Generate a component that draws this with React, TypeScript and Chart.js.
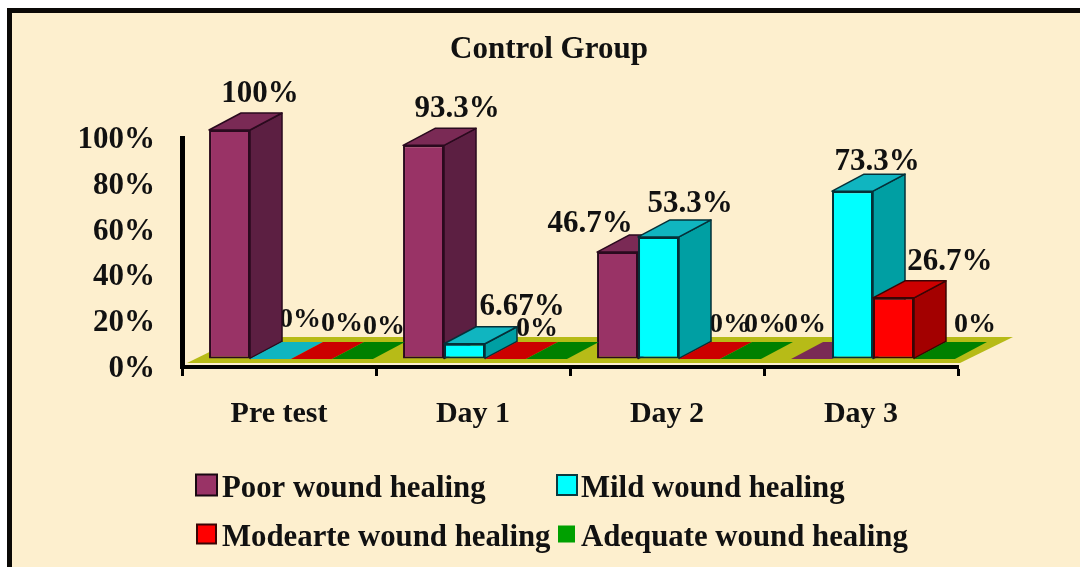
import React, { useEffect, useRef } from "react";
import { Chart, registerables } from "chart.js";

Chart.register(...registerables);

const categories = ["Pre test", "Day 1", "Day 2", "Day 3"];
const seriesNames = [
  "Poor wound healing",
  "Mild wound healing",
  "Modearte wound healing",
  "Adequate wound healing",
];
const poor = [100, 93.3, 46.7, 0];
const mild = [0, 6.67, 53.3, 73.3];
const moderate = [0, 0, 0, 26.7];
const adequate = [0, 0, 0, 0];
const yTicks = [0, 20, 40, 60, 80, 100];

// Labels per series and category; null where the reference shows no label.
const poorLabels = ["100%", "93.3%", "46.7%", "0%"];
const mildLabels = ["0%", "6.67%", "53.3%", "73.3%"];
const moderateLabels = ["0%", "0%", "0%", "26.7%"];
const adequateLabels = ["0%", null, "0%", "0%"];

// Offsets of each label from the top-centre of its bar's front face.
const labelOffsets = [
  [[30.5, -36], [33.5, -36], [-27.5, -28], [-6.5, -34]],
  [[29.5, -39], [57.5, -37], [31.5, -33], [24.5, -29]],
  [[30.5, -35], [31.5, -30], [30.5, -34], [56.5, -36]],
  [[31.5, -32], [0, 0], [24.5, -34], [40.5, -34]],
];

const FONT = '"Liberation Serif"';
const BG = "#FDEFCE";
const frontColors = ["#993366", "#00FFFF", "#FF0000", "#008000"];
const sideColors = ["#5C1F42", "#009FA3", "#A30000", "#005000"];
const topColors = ["#7A2A55", "#10B5C0", "#CC0000", "#008000"];
const edgeColors = ["#2A0A1E", "#053038", "#3A0505", "#003000"];
const legendColors = ["#993366", "#00FFFF", "#FF0000", "#00A000"];
const legendEdges = ["#1A0812", "#0A3A40", "#3A0505", "#00A000"];

const SHIFT_X = 12;
const SHIFT_Y = -8;
const DEPTH_X = 32;
const DEPTH_Y = 17;

const poly = (ctx: CanvasRenderingContext2D, pts: number[][]) => {
  ctx.beginPath();
  pts.forEach((p, i) => (i ? ctx.lineTo(p[0], p[1]) : ctx.moveTo(p[0], p[1])));
  ctx.closePath();
};

const scene = {
  id: "scene",
  beforeDraw(chart: any) {
    const { ctx, width, height } = chart;
    ctx.save();
    ctx.fillStyle = "#FFFFFF";
    ctx.fillRect(0, 0, width, height);
    ctx.fillStyle = "#0B0906";
    ctx.fillRect(7, 8, width - 7, height - 8);
    ctx.fillStyle = BG;
    ctx.fillRect(12, 13, width - 12, height - 13);
    ctx.restore();
  },
  afterLayout(chart: any) {
    if (chart.titleBlock) {
      chart.titleBlock.left = 18;
      chart.titleBlock.right = chart.width;
    }
  },
  beforeDatasetsDraw(chart: any) {
    const { ctx, chartArea } = chart;
    const { left, right, bottom } = chartArea;
    ctx.save();
    // floor
    ctx.fillStyle = "#B7BB17";
    poly(ctx, [
      [left + 5, bottom - 4],
      [right + 2, bottom - 4],
      [right + 55, bottom - 30],
      [left + 58, bottom - 30],
    ]);
    ctx.fill();

    const metas = chart.data.datasets.map((_: any, i: number) => chart.getDatasetMeta(i));
    const allLabels = [poorLabels, mildLabels, moderateLabels, adequateLabels];

    ctx.translate(SHIFT_X, SHIFT_Y);

    // value labels sit behind the bars, which clip them as in the reference
    ctx.fillStyle = "#111111";
    ctx.textAlign = "center";
    ctx.textBaseline = "middle";
    metas.forEach((meta: any, s: number) => {
      meta.data.forEach((bar: any, c: number) => {
        const text = allLabels[s][c];
        if (!text) return;
        const [dx, dy] = labelOffsets[s][c];
        ctx.font = `bold ${text === "0%" ? 28 : 31}px ${FONT}`;
        ctx.fillText(text, bar.x + dx, bar.y + dy);
      });
    });

    // bars, series by series, left to right, so nearer faces overlap correctly
    metas.forEach((meta: any, s: number) => {
      meta.data.forEach((bar: any) => {
        const x0 = bar.x - bar.width / 2;
        const x1 = bar.x + bar.width / 2;
        const yT = bar.y;
        const yB = bar.base;
        const flat = Math.abs(yB - yT) < 1;
        ctx.lineWidth = 1.5;
        ctx.lineJoin = "round";
        ctx.strokeStyle = edgeColors[s];
        if (!flat) {
          ctx.fillStyle = sideColors[s];
          poly(ctx, [
            [x1, yT],
            [x1 + DEPTH_X, yT - DEPTH_Y],
            [x1 + DEPTH_X, yB - DEPTH_Y],
            [x1, yB],
          ]);
          ctx.fill();
          ctx.stroke();
        }
        ctx.fillStyle = topColors[s];
        poly(ctx, [
          [x0, yT],
          [x0 + DEPTH_X, yT - DEPTH_Y],
          [x1 + DEPTH_X, yT - DEPTH_Y],
          [x1, yT],
        ]);
        ctx.fill();
        if (!flat) ctx.stroke();
      });
      meta.controller.draw();
    });
    ctx.restore();
    return false;
  },
  afterDraw(chart: any) {
    const { ctx } = chart;
    const rows = [
      [0, 1],
      [2, 3],
    ];
    const rowY = [485, 534];
    const textX = [222, 581];
    const swatchX = [196, 557];
    const swatchSize = [
      [21, 20],
      [19, 15],
    ];
    ctx.save();
    ctx.font = `bold 30.8px ${FONT}`;
    ctx.textAlign = "left";
    ctx.textBaseline = "middle";
    rows.forEach((row, r) => {
      row.forEach((s, col) => {
        const size = swatchSize[r][col];
        const sx = swatchX[col] + (col === 0 ? r : r * 2);
        const sy = rowY[r] - size / 2;
        ctx.fillStyle = legendColors[s];
        ctx.strokeStyle = legendEdges[s];
        ctx.lineWidth = 2;
        ctx.fillRect(sx, sy, size, size);
        ctx.strokeRect(sx, sy, size, size);
        ctx.fillStyle = "#111111";
        ctx.fillText(chart.data.datasets[s].label, textX[col], rowY[r] + 4);
      });
    });
    ctx.restore();
  },
};

export default function App() {
  const ref = useRef<HTMLCanvasElement>(null);
  useEffect(() => {
    if (!ref.current) return;
    const series = [poor, mild, moderate, adequate];
    const chart = new Chart(ref.current, {
      type: "bar",
      data: {
        labels: categories,
        datasets: series.map((data, i) => ({
          label: seriesNames[i],
          data,
          backgroundColor: frontColors[i],
          borderColor: edgeColors[i],
          borderWidth: 2,
          borderSkipped: false,
          barPercentage: 1,
          categoryPercentage: 0.845,
        })),
      },
      options: {
        responsive: false,
        animation: false,
        layout: { padding: { left: 0, right: 122, top: 0, bottom: 0 } },
        plugins: {
          legend: { display: false },
          tooltip: { enabled: false },
          title: {
            display: true,
            text: "Control Group",
            color: "#111111",
            font: { family: FONT, size: 31, weight: "bold", lineHeight: 1 },
            padding: { top: 34, bottom: 73 },
          },
        },
        scales: {
          x: {
            afterFit(scale: any) {
              scale.height = 200;
            },
            grid: {
              drawOnChartArea: false,
              drawTicks: true,
              tickLength: 9,
              tickWidth: 3,
              tickColor: "#000000",
              offset: true,
            },
            border: { display: true, color: "#000000", width: 4 },
            ticks: {
              color: "#111111",
              font: { family: FONT, size: 30, weight: "bold" },
              padding: 20,
              maxRotation: 0,
            },
          },
          y: {
            min: 0,
            max: 100,
            afterFit(scale: any) {
              scale.width = 182;
            },
            afterBuildTicks(scale: any) {
              scale.ticks = yTicks.map((value) => ({ value }));
            },
            grid: { drawOnChartArea: false, drawTicks: false },
            border: { display: true, color: "#000000", width: 5 },
            ticks: {
              color: "#111111",
              font: { family: FONT, size: 31, weight: "bold" },
              padding: 27,
              labelOffset: 2,
              callback: (v: any) => `${v}%`,
            },
          },
        },
      },
      plugins: [scene],
    } as any);
    return () => chart.destroy();
  }, []);
  return (
    <div style={{ position: "fixed", left: 0, top: 0, width: 1080, height: 567 }}>
      <canvas ref={ref} width={1080} height={567} style={{ display: "block" }} />
    </div>
  );
}
